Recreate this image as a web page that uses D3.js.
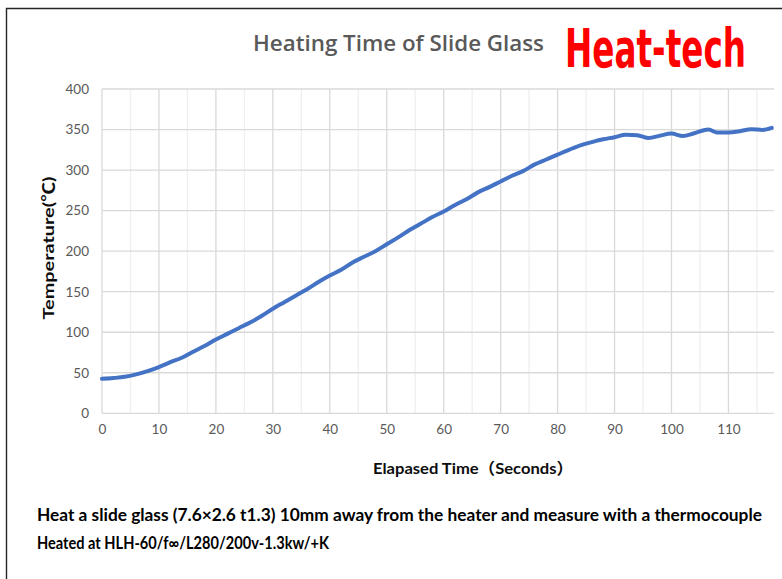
<!DOCTYPE html>
<html>
<head>
<meta charset="utf-8">
<script src="https://cdn.jsdelivr.net/npm/d3@7"></script>
<style>
  html, body { margin: 0; padding: 0; background: #fff; }
  svg { display: block; }
</style>
</head>
<body>
<svg id="chart" width="782" height="579"></svg>
<script>
// ---- data ----
const times = [0, 2, 4, 6, 8, 10, 12, 14, 16, 18, 20, 22, 24, 26, 28, 30, 32, 34, 36, 38,
  40, 42, 44, 46, 48, 50, 52, 54, 56, 58, 60, 62, 64, 66, 68, 70, 72, 74, 76, 78,
  80, 82, 84, 86, 88, 90, 92, 94, 96, 98, 100, 102, 104, 106.5, 108, 110, 112, 114, 116, 117.6];
const temps = [42.5, 43.5, 45, 48, 52, 57, 63, 68.5, 76, 83, 91, 98, 105, 112, 120, 129, 137, 145, 153, 162,
  170, 177, 186, 193, 200, 208.5, 217, 226, 234, 242, 249, 257, 264, 272.5, 279, 286, 293, 299, 307, 313,
  319, 325, 330.5, 334.5, 338, 340.5, 343.5, 343, 339.5, 342.5, 345, 342, 345.5, 350, 346.5, 346.5, 348, 350.5, 349.5, 352];
const xTicks = [0, 10, 20, 30, 40, 50, 60, 70, 80, 90, 100, 110];
const xMinor = [5, 15, 25, 35, 45, 55, 65, 75, 85, 95, 105, 115];
const yTicks = [0, 50, 100, 150, 200, 250, 300, 350, 400];
const titleText = "Heating Time of Slide Glass";
const logoText = "Heat-tech";
const xTitle = "Elapased Time（Seconds）";
const yTitle = "Temperature(℃)";
const noteLines = [
  "Heat a slide glass (7.6×2.6 t1.3) 10mm away from the heater and measure with a thermocouple",
  "Heated at HLH-60/f∞/L280/200v-1.3kw/+K"
];

// ---- layout ----
const svg = d3.select("#chart");
const plot = { left: 102, right: 774, top: 89, bottom: 413.3 };
const x = d3.scaleLinear().domain([0, 118]).range([plot.left, plot.right]);
const y = d3.scaleLinear().domain([0, 400]).range([plot.bottom, plot.top]);

// outer border (left + top visible)
svg.append("path")
  .attr("d", `M6.5,579 L6.5,8.5 L782,8.5`)
  .attr("fill", "none").attr("stroke", "#262626").attr("stroke-width", 1.4);

// gridlines
const g = svg.append("g");
g.selectAll(".vmin").data(xMinor).enter().append("line")
  .attr("x1", d => x(d)).attr("x2", d => x(d))
  .attr("y1", plot.top).attr("y2", plot.bottom)
  .attr("stroke", "#efefef").attr("stroke-width", 1.3);
g.selectAll(".vmaj").data(xTicks).enter().append("line")
  .attr("x1", d => x(d)).attr("x2", d => x(d))
  .attr("y1", plot.top).attr("y2", plot.bottom)
  .attr("stroke", "#d9d9d9").attr("stroke-width", 1.3);
g.selectAll(".h").data(yTicks).enter().append("line")
  .attr("x1", plot.left).attr("x2", plot.right)
  .attr("y1", d => y(d)).attr("y2", d => y(d))
  .attr("stroke", "#d9d9d9").attr("stroke-width", 1.3);

// axes labels via d3 axes
const xAxis = d3.axisBottom(x).tickValues(xTicks).tickSize(0).tickPadding(11);
const yAxis = d3.axisLeft(y).tickValues(yTicks).tickSize(0).tickPadding(13);
const gx = svg.append("g").attr("transform", `translate(0,${plot.bottom})`).call(xAxis);
const gy = svg.append("g").attr("transform", `translate(${plot.left},0)`).call(yAxis);
[gx, gy].forEach(a => {
  a.select(".domain").remove();
  a.selectAll("text").attr("fill", "#595959")
    .style("font-family", "Lato, 'Open Sans', sans-serif").style("font-size", "13.5px");
});

// line
const data = times.map((t, i) => ({ t, v: temps[i] }));
svg.append("path")
  .datum(data)
  .attr("fill", "none")
  .attr("stroke", "#4472c4")
  .attr("stroke-width", 4)
  .attr("stroke-linejoin", "round")
  .attr("stroke-linecap", "round")
  .attr("d", d3.line().x(d => x(d.t)).y(d => y(d.v)).curve(d3.curveMonotoneX));

// title
svg.append("text")
  .attr("x", 253).attr("y", 50.5)
  .attr("textLength", 291).attr("lengthAdjust", "spacingAndGlyphs")
  .attr("fill", "#595959")
  .style("font-family", "'Open Sans', sans-serif").style("font-size", "21px").style("font-weight", 600)
  .text(titleText);

// logo: condensed via horizontal scale so the box stays inside the page
const logo = svg.append("text")
  .attr("x", 0).attr("y", 0)
  .attr("fill", "#ff0000")
  .style("font-family", "'DejaVu Sans Condensed', 'DejaVu Sans', sans-serif")
  .style("font-size", "54px").style("font-weight", "bold")
  .text(logoText);
const natural = logo.node().getComputedTextLength();
const sx = 181 / natural;
logo.attr("transform", `translate(565,67) scale(${sx},1)`);

// axis titles
svg.append("text")
  .attr("x", 373).attr("y", 474)
  .attr("textLength", 200).attr("lengthAdjust", "spacingAndGlyphs")
  .attr("fill", "#0d0d0d")
  .style("font-family", "Lato, 'Noto Sans CJK JP', sans-serif").style("font-size", "16px").style("font-weight", "bold")
  .text(xTitle);

svg.append("text")
  .attr("transform", "translate(54,248) rotate(-90)")
  .attr("text-anchor", "middle")
  .attr("textLength", 143).attr("lengthAdjust", "spacingAndGlyphs")
  .attr("fill", "#0d0d0d")
  .style("font-family", "Lato, 'Noto Sans CJK JP', sans-serif").style("font-size", "16px").style("font-weight", "bold")
  .text(yTitle);

// notes
const noteLen = [725, 292];
const noteY = [521, 549];
svg.selectAll(".note").data(noteLines).enter().append("text")
  .attr("x", 37).attr("y", (d, i) => noteY[i])
  .attr("textLength", (d, i) => noteLen[i]).attr("lengthAdjust", "spacingAndGlyphs")
  .attr("fill", "#000")
  .style("font-family", "Lato, 'Noto Sans CJK JP', sans-serif").style("font-size", "16.5px").style("font-weight", "bold")
  .text(d => d);
</script>
</body>
</html>
